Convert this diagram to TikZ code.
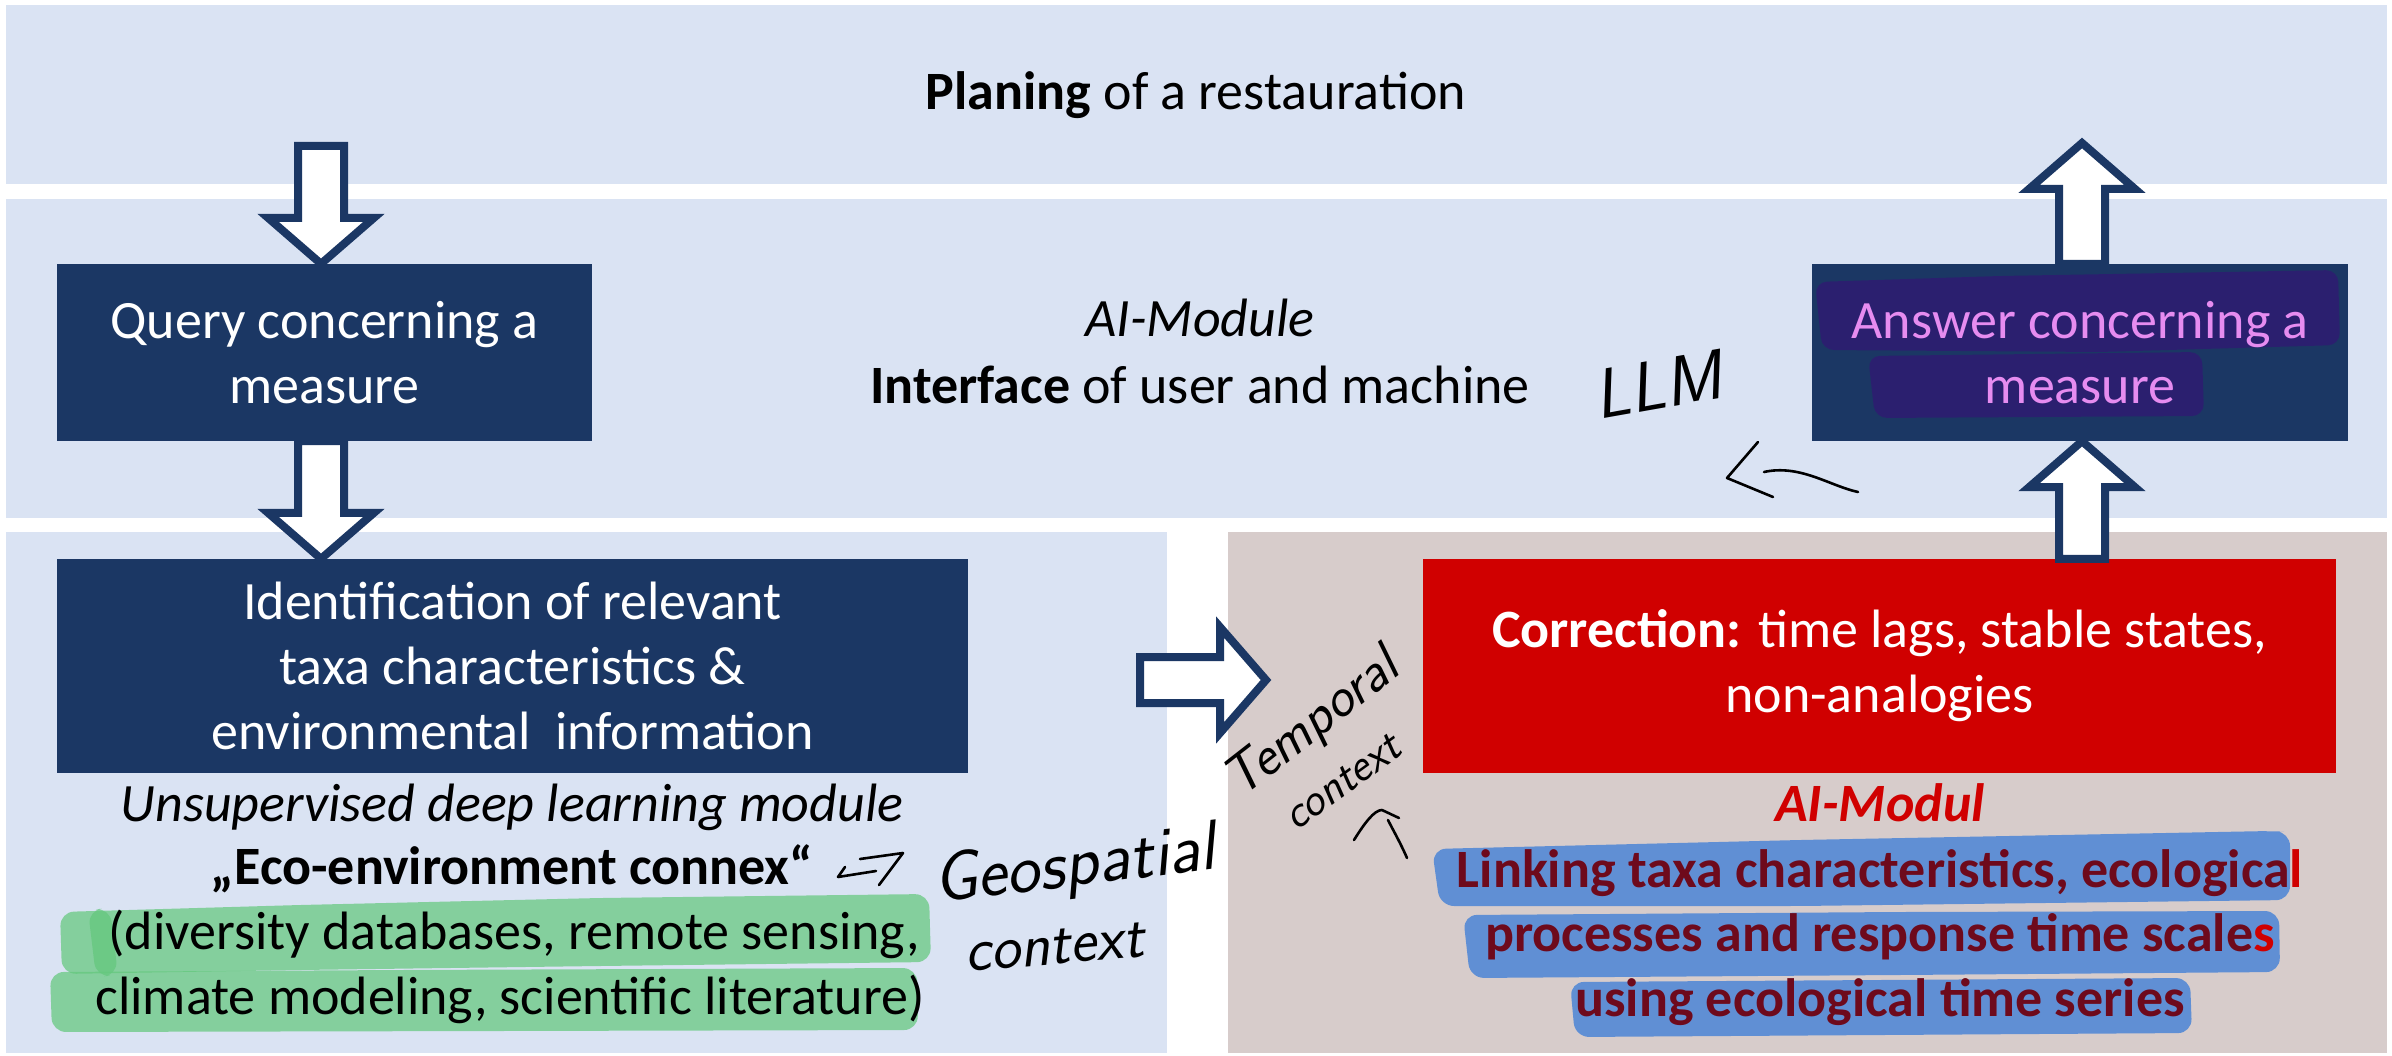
\documentclass[tikz,border=0pt]{standalone}
\usepackage{fontspec}
\setmainfont{Carlito}
\usetikzlibrary{calc}
\definecolor{bandblue}{RGB}{218,227,243}
\definecolor{taupe}{RGB}{215,204,203}
\definecolor{navy}{RGB}{27,55,100}
\definecolor{boxred}{RGB}{208,0,0}
\definecolor{hlgreen}{RGB}{100,200,125}
\definecolor{hlblue}{RGB}{70,130,215}
\definecolor{hlpurple}{RGB}{45,30,112}
\definecolor{pinktext}{RGB}{230,140,240}
\definecolor{darkred}{RGB}{110,10,28}
\newcommand\bigtxt{\fontsize{54}{65}\selectfont}
\newcommand\blockarrow[2]{%
  \coordinate (ba-h) at ($(#2)!46pt!(#1)$);
  \draw[barrow] ($(#1)!23pt!90:(#2)$) -- ($(ba-h)!23pt!-90:(#1)$) -- ($(ba-h)!53pt!-90:(#1)$) -- (#2)
     -- ($(ba-h)!53pt!90:(#1)$) -- ($(ba-h)!23pt!90:(#1)$) -- ($(#1)!23pt!-90:(#2)$) -- cycle;}
\begin{document}
\begin{tikzpicture}[x=1pt,y=-1pt,
  darkbox/.style={fill=navy, draw=none, inner sep=0pt, text=white, align=center, font=\bigtxt},
  redbox/.style={fill=boxred, draw=none, inner sep=0pt, text=white, align=center, font=\bigtxt},
  txt/.style={font=\bigtxt, anchor=base, inner sep=0pt},
  barrow/.style={draw=navy, line width=8pt, fill=white, line join=miter},
  hand/.style={draw=black, line width=2.6pt, line cap=round, line join=round},
  handtxt/.style={text=black, inner sep=0pt, anchor=base west},
  hlg/.style={fill=hlgreen, fill opacity=0.72, rounded corners=14pt},
  hlb/.style={fill=hlblue, fill opacity=0.82, rounded corners=14pt},
  hlp/.style={fill=hlpurple, fill opacity=0.92, rounded corners=12pt}]
\useasboundingbox (0,0) rectangle (2392,1056);
\fill[white] (0,0) rectangle (2392,1056);
% bands
\fill[bandblue] (6,5) rectangle (2387,184);
\fill[bandblue] (6,199) rectangle (2387,518);
\fill[bandblue] (6,532) rectangle (1167,1053);
\fill[taupe] (1228,532) rectangle (2387,1053);

% boxes
\node[darkbox, minimum width=535pt, minimum height=177pt] (query) at (324.5,352.5) {Query concerning a\\measure};
\node[darkbox, minimum width=536pt, minimum height=177pt] (answer) at (2080,352.5) {};
\node[darkbox, minimum width=911pt, minimum height=214pt] (ident) at (512.5,666) {Identification of relevant\\taxa characteristics \&\\environmental~ information};
\node[redbox, minimum width=913pt, minimum height=214pt] (corr) at (1879.5,666) {\textbf{Correction:} time lags, stable states,\\non-analogies};

% answer highlight + text
\fill[hlp] (1815,282) -- (2000,276) -- (2338,270) -- (2340,345) -- (2100,352) -- (1822,350) -- cycle;
\fill[hlp] (1868,356) -- (2202,352) -- (2204,416) -- (1875,418) -- cycle;
\node[txt, text=pinktext] (anst1) at (2080,339) {Answer concerning a};
\node[txt, text=pinktext] (anst2) at (2080,403) {measure};

% top texts
\node[txt] (plan) at (1196,110) {\textbf{Planing} of a restauration};
\node[txt] (aimod) at (1200,337) {\itshape AI-Module};
\node[txt] (iface) at (1200,403) {\textbf{Interface} of user and machine};

% left lower texts
\fill[hlg] (60,912) -- (300,905) -- (600,898) -- (929,894) -- (931,962) -- (600,966) -- (300,970) -- (62,974) -- cycle;
\fill[hlg] (50,972) -- (400,970) -- (917,968) -- (918,1030) -- (500,1031) -- (52,1032) -- cycle;
\fill[hlg] (88,910) -- (110,908) -- (118,975) -- (96,977) -- cycle;
\node[txt] (unsup) at (512,821) {\itshape Unsupervised deep learning module};
\node[txt] (eco) at (512,884) {\textbf{„Eco-environment connex“}};
\node[txt] (div) at (514,949) {(diversity databases, remote sensing,};
\node[txt] (clim) at (510,1014) {climate modeling, scientific literature)};

% right lower texts
\fill[hlb] (1432,849) -- (1800,840) -- (2270,831) -- (2290,832) -- (2290,900) -- (1800,906) -- (1440,906) -- cycle;
\fill[hlb] (1463,915) -- (1900,912) -- (2279,911) -- (2280,972) -- (1900,975) -- (1470,978) -- cycle;
\fill[hlb] (1570,982) -- (2190,978) -- (2192,1033) -- (1575,1037) -- cycle;
\node[txt, text=boxred] (aimodul) at (1880,821) {\textbf{\textit{AI-Modul}}};
\node[txt, text=darkred] (link1) at (1880,887) {\textbf{Linking taxa characteristics, ecologica\textcolor{boxred}{l}}};
\node[txt, text=darkred] (link2) at (1880,951) {\textbf{processes and response time scale\textcolor{boxred}{s}}};
\node[txt, text=darkred] (link3) at (1880,1016) {\textbf{using ecological time series}};

% block arrows
\coordinate (a1s) at (321,146);
\coordinate (a1e) at (a1s |- query.north);
\coordinate (a2s) at (a1s |- query.south);
\coordinate (a2e) at (a1s |- ident.north);
\coordinate (a3x) at (2082,143);
\coordinate (a3s) at (a3x |- answer.north);
\coordinate (a4s) at (a3x |- corr.north);
\coordinate (a4e) at (a3x |- answer.south);
\coordinate (a5s) at (1140,680);
\coordinate (a5e) at (1266,680);
\blockarrow{a1s}{a1e}
\blockarrow{a2s}{a2e}
\blockarrow{a3s}{a3x}
\blockarrow{a4s}{a4e}
\blockarrow{a5s}{a5e}

% handwritten annotations
\node[handtxt, font=\fontsize{70}{74}\sffamily\slshape, rotate=10] (llm) at (1598,420) {LLM};
\coordinate (llmtail) at (1858,492);
\coordinate (llmtip) at (1727,478);
\draw[hand] (llmtail) .. controls (1830,486) and (1800,464) .. (1764,472);
\draw[hand] (1758,442) -- (llmtip) -- (1773,497);

\node[handtxt, font=\fontsize{70}{74}\sffamily\slshape, rotate=7] (geo) at (936,903) {Geospatial};
\node[handtxt, font=\fontsize{62}{66}\sffamily\slshape, rotate=5] (geoctx) at (966,972) {context};
\coordinate (ecoarr) at (838,877);
\draw[hand] (845,867) -- (ecoarr) -- (876,871);
\draw[hand] (860,859) -- (903,853) -- (879,885);

\node[handtxt, font=\fontsize{56}{60}\sffamily\slshape, rotate=38] (temp) at (1240,800) {Temporal};
\node[handtxt, font=\fontsize{46}{50}\sffamily\slshape, rotate=36] (tempctx) at (1296,832) {context};
\coordinate (temparr) at (1407,858);
\draw[hand] (temparr) .. controls (1400,842) and (1393,830) .. (1388,820);
\draw[hand] (1354,840) .. controls (1364,824) and (1374,810) .. (1382,810) -- (1399,818);
\end{tikzpicture}
\end{document}
